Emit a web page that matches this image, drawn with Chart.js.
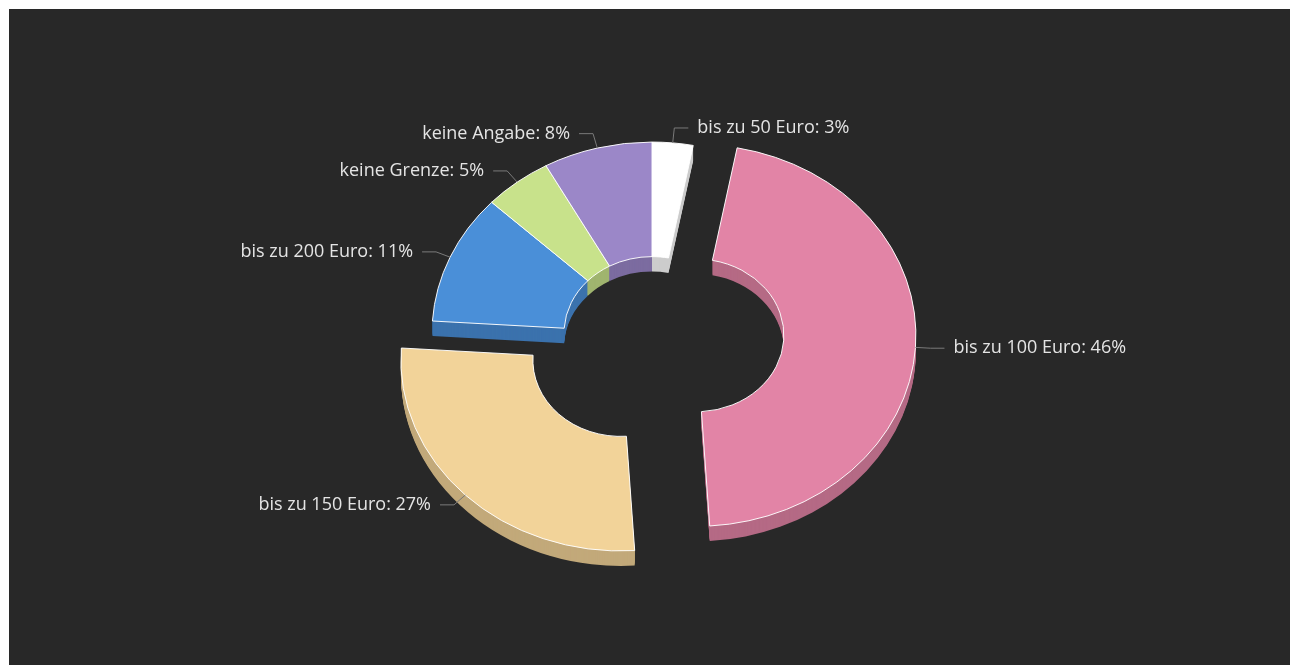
<!DOCTYPE html>
<html>
<head>
<meta charset="utf-8">
<script src="https://cdn.jsdelivr.net/npm/chart.js@4/dist/chart.umd.min.js"></script>
<style>
  html, body { margin: 0; padding: 0; background: #fff; overflow: hidden; }
  #wrap { position: absolute; left: 9px; top: 9px; width: 1281px; height: 656px; background: #282828; }
</style>
</head>
<body>
<div id="wrap"><canvas id="pieChart"></canvas></div>
<script>
var labels = ["bis zu 50 Euro", "bis zu 100 Euro", "bis zu 150 Euro", "bis zu 200 Euro", "keine Grenze", "keine Angabe"];
var values = [3, 46, 27, 11, 5, 8];
var colors = ["#ffffff", "#e284a6", "#f2d399", "#4a8fd8", "#c8e28b", "#9b87c8"];
var sliced = [false, true, true, false, false, false];

// 3d look
var tilt = 0.868,
  depth = 15,
  sliceShift = 44;

function shade(hex, f) {
  var n = parseInt(hex.slice(1), 16);
  var r = Math.round(((n >> 16) & 255) * f),
    g = Math.round(((n >> 8) & 255) * f),
    b = Math.round((n & 255) * f);
  return "rgb(" + r + "," + g + "," + b + ")";
}
var sideColors = colors.map((c) => shade(c, 0.8));

function squash(ctx, cy) {
  ctx.translate(0, cy);
  ctx.scale(1, tilt);
  ctx.translate(0, -cy);
}

var pie3d = {
  id: "pie3d",
  afterDatasetUpdate(chart, args) {
    args.meta.data.forEach(function (arc, i) {
      if (!sliced[i]) return;
      var mid = (arc.startAngle + arc.endAngle) / 2;
      arc.x += Math.cos(mid) * sliceShift;
      arc.y += Math.sin(mid) * sliceShift;
    });
  },
  beforeDatasetsDraw(chart) {
    var ctx = chart.ctx,
      arcs = chart.getDatasetMeta(0).data,
      ca = chart.chartArea;
    var cy = (ca.top + ca.bottom) / 2;
    for (var d = depth; d >= 1; d--) {
      arcs.forEach(function (arc, i) {
        ctx.save();
        ctx.translate(0, d);
        squash(ctx, cy);
        ctx.beginPath();
        ctx.arc(arc.x, arc.y, arc.outerRadius, arc.startAngle, arc.endAngle);
        ctx.arc(arc.x, arc.y, arc.innerRadius, arc.endAngle, arc.startAngle, true);
        ctx.closePath();
        ctx.fillStyle = sideColors[i];
        ctx.fill();
        ctx.restore();
      });
    }
    ctx.save();
    squash(ctx, cy);
  },
  afterDatasetsDraw(chart) {
    var ctx = chart.ctx,
      arcs = chart.getDatasetMeta(0).data,
      ca = chart.chartArea;
    ctx.restore();
    var cy = (ca.top + ca.bottom) / 2;
    ctx.save();
    arcs.forEach(function (arc, i) {
      var mid = (arc.startAngle + arc.endAngle) / 2;
      var cos = Math.cos(mid),
        sin = Math.sin(mid);
      var ax = arc.x + cos * arc.outerRadius;
      var ay = cy + (arc.y - cy + sin * arc.outerRadius) * tilt;
      var len = Math.hypot(cos, sin * tilt);
      var bx = ax + (cos / len) * 15,
        by = ay + ((sin * tilt) / len) * 15;
      var dir = cos >= 0 ? 1 : -1;
      var ex = bx + dir * 14;
      ctx.strokeStyle = "#7a7a7a";
      ctx.lineWidth = 1;
      ctx.beginPath();
      ctx.moveTo(ax, ay);
      ctx.lineTo(bx, by);
      ctx.lineTo(ex, by);
      ctx.stroke();
      ctx.fillStyle = "#e4e4e4";
      ctx.font = '18px "Open Sans"';
      ctx.textAlign = dir > 0 ? "left" : "right";
      ctx.textBaseline = "middle";
      ctx.fillText(labels[i] + ": " + values[i] + "%", ex + dir * 9, by);
    });
    ctx.restore();
  },
};

const ctx = document.getElementById("pieChart");
var chart = new Chart(ctx, {
  type: "doughnut",
  data: {
    labels: labels,
    datasets: [
      {
        data: values,
        backgroundColor: colors,
        borderColor: "#ffffff",
        borderWidth: 1,
      },
    ],
  },
  options: {
    responsive: true,
    maintainAspectRatio: false,
    animation: false,
    radius: 220,
    cutout: "40%",
    layout: { padding: { left: 5, bottom: 8 } },
    plugins: {
      legend: { display: false },
      tooltip: { enabled: false },
    },
  },
  plugins: [pie3d],
});
</script>
</body>
</html>
